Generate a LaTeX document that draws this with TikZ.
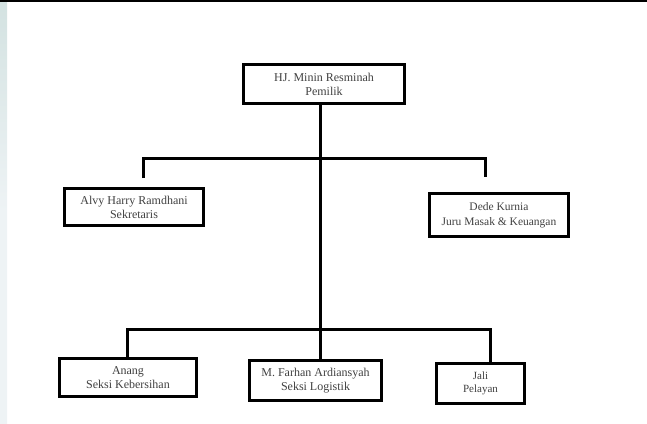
\documentclass[tikz,border=0pt]{standalone}
\usepackage{fontspec}
\setmainfont{Liberation Serif}
\usetikzlibrary{positioning}

\definecolor{stripA}{HTML}{D3E2E1}
\definecolor{stripB}{HTML}{EEF3F5}

\begin{document}
\begin{tikzpicture}[
                x=1pt, y=-1pt,
                block/.style={rectangle, draw=black, line width=3pt, align=center, inner sep=0pt,
                              text=black!75, font=\fontsize{12}{14}\selectfont},
                link/.style={draw=black, line width=3pt},
                empty/.style={coordinate}
            ]

            %page frame
            \useasboundingbox (0,0) rectangle (647,423);
            \shade[top color=stripA, bottom color=stripB, middle color=stripB] (0,0) rectangle (7,423);
            \fill[black] (0,0) rectangle (647,2);

            %blocks
            \node[block, minimum width=161pt, minimum height=39pt] (owner)   at (324,84)      {HJ. Minin Resminah\\Pemilik};
            \node[block, minimum width=139pt, minimum height=37pt] (secr)    at (134,207)     {Alvy Harry Ramdhani\\Sekretaris};
            \node[block, minimum width=139pt, minimum height=43pt,
                  font=\fontsize{11.5}{15}\selectfont]             (cook)    at (499,215)     {Dede Kurnia\\Juru Masak \& Keuangan};
            \node[block, minimum width=137pt, minimum height=38pt] (clean)   at (128,377.5)   {Anang\\Seksi Kebersihan};
            \node[block, minimum width=132pt, minimum height=40pt] (logist)  at (315.5,380.5) {M. Farhan Ardiansyah\\Seksi Logistik};
            \node[block, minimum width=88pt,  minimum height=40pt,
                  font=\fontsize{11}{13}\selectfont]               (waiter)  at (480.5,383.5) {Jali\\Pelayan};

            %branch coordinates
            \node[empty] (up_mid)  at (320,158) {};
            \node[empty] (up_l)    at (143,178) {};
            \node[empty] (up_r)    at (485,177) {};
            \node[empty] (low_mid) at (320,329) {};
            \node[empty] (low_r)   at (490,362) {};

            %lines
            \draw[link] (owner.south -| low_mid) -- (low_mid);
            \draw[link] (up_l) |- (up_mid) -| (up_r);
            \draw[link] (clean.north -| 127,0) |- (low_mid) -| (low_r);
            \draw[link] (low_mid) -- (logist.north -| low_mid);

            \end{tikzpicture}
\end{document}
